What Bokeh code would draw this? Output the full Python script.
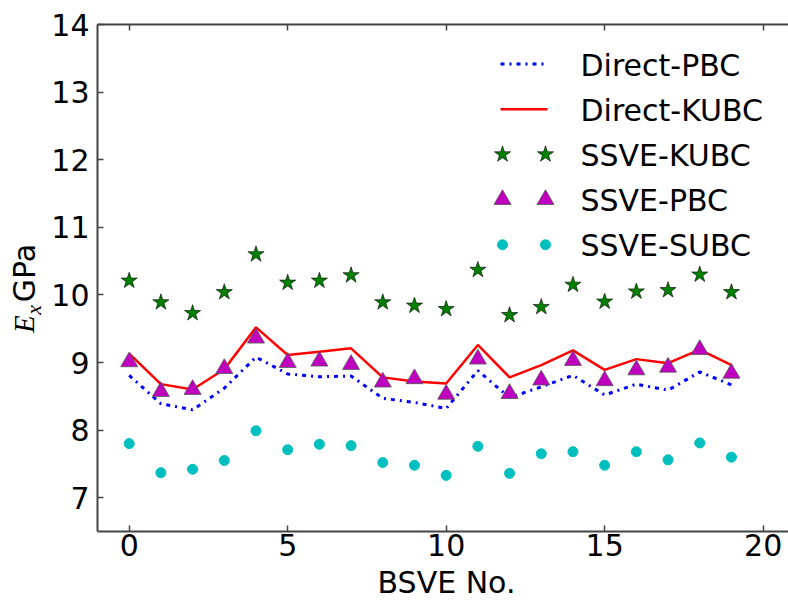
import math

from bokeh.plotting import figure
from bokeh.layouts import row, column
from bokeh.models import Range1d, FixedTicker, LinearAxis, Label
from bokeh.embed import file_html
from bokeh.resources import INLINE

# ---- data -------------------------------------------------------------
bsve_no = list(range(20))

direct_pbc = [8.81, 8.39, 8.30, 8.62, 9.08, 8.83, 8.79, 8.80, 8.47, 8.41,
              8.32, 8.88, 8.48, 8.64, 8.81, 8.52, 8.68, 8.59, 8.86, 8.67]
direct_kubc = [9.13, 8.68, 8.60, 8.90, 9.52, 9.11, 9.16, 9.21, 8.78, 8.72,
               8.69, 9.26, 8.78, 8.96, 9.18, 8.89, 9.05, 8.99, 9.19, 8.96]
ssve_kubc = [10.21, 9.89, 9.73, 10.04, 10.60, 10.18, 10.21, 10.29, 9.89, 9.84,
             9.79, 10.37, 9.70, 9.82, 10.15, 9.90, 10.05, 10.07, 10.30, 10.04]
ssve_pbc = [9.01, 8.57, 8.60, 8.91, 9.36, 9.00, 9.02, 8.97, 8.71, 8.76,
            8.53, 9.05, 8.54, 8.74, 9.03, 8.73, 8.89, 8.93, 9.19, 8.84]
ssve_subc = [7.80, 7.37, 7.42, 7.55, 7.99, 7.71, 7.79, 7.77, 7.52, 7.48,
             7.33, 7.76, 7.36, 7.65, 7.68, 7.48, 7.68, 7.56, 7.81, 7.60]

series_names = ["Direct-PBC", "Direct-KUBC", "SSVE-KUBC", "SSVE-PBC", "SSVE-SUBC"]
x_ticks = [0, 5, 10, 15, 20]
y_ticks = [7, 8, 9, 10, 11, 12, 13, 14]

# ---- layout & style ---------------------------------------------------
W, H = 788, 600
STRIP = 47                # left strip carrying the y title
XSTRIP = 35               # bottom strip carrying the x title
LEFT, TOP, BOTTOM = 97, 24, 69
X_START, X_END = -1.0, 20.8
Y_START, Y_END = 6.5, 14.0

SPINE = "#444444"
FONT = "DejaVu Sans"
BLUE, RED = "#0000ff", "#ff0000"
GREEN, MAGENTA, CYAN = "#007f00", "#bf00bf", "#00bfbf"
BASELINE_FIX = 11  # px: lift applied to alphabetic-baseline labels


def sx(px):
    """page pixel column -> x data value"""
    return X_START + (px - LEFT) * (X_END - X_START) / (W - LEFT)


def sy(py):
    """page pixel row -> y data value"""
    return Y_END - (py - TOP) * (Y_END - Y_START) / (H - TOP - BOTTOM)


p = figure(width=W - STRIP, height=H - XSTRIP, output_backend="svg",
           toolbar_location=None, title=None,
           x_range=Range1d(X_START, X_END), y_range=Range1d(Y_START, Y_END),
           min_border_left=LEFT - STRIP, min_border_right=0,
           min_border_top=TOP, min_border_bottom=BOTTOM - XSTRIP)
p.grid.visible = False
p.outline_line_color = None
p.background_fill_color = "white"
p.border_fill_color = "white"


def style_axis(ax, ticks, standoff, label_size="30px"):
    ax.ticker = FixedTicker(ticks=ticks)
    ax.axis_line_color = SPINE
    ax.axis_line_width = 2
    ax.major_tick_line_color = SPINE
    ax.major_tick_line_width = 1.5
    ax.major_tick_in = 6
    ax.major_tick_out = 0
    ax.minor_tick_line_color = None
    ax.major_label_text_font = FONT
    ax.major_label_text_font_size = label_size
    ax.major_label_text_color = "black"
    ax.major_label_standoff = standoff


style_axis(p.xaxis[0], x_ticks, 2)
style_axis(p.yaxis[0], y_ticks, 8)

top_axis = LinearAxis()
style_axis(top_axis, x_ticks, 0, label_size="0px")
p.add_layout(top_axis, "above")

# ---- series -----------------------------------------------------------
p.line(bsve_no, direct_pbc, line_color=BLUE, line_width=3, line_dash="4 5 2 5")
p.line(bsve_no, direct_kubc, line_color=RED, line_width=2.5)
p.scatter(bsve_no, ssve_kubc, marker="star", size=17,
          fill_color=GREEN, line_color="black", line_width=0.6)
p.scatter(bsve_no, ssve_pbc, marker="triangle", size=17,
          fill_color=MAGENTA, line_color="#555555", line_width=0.8)
p.scatter(bsve_no, ssve_subc, marker="circle", size=10,
          fill_color=CYAN, line_color=CYAN)

# ---- legend (two sample points per entry) ------------------------------
row_px = [63.5 + 45.2 * k for k in range(5)]
mk_px = (502, 545)
ln_px = (500, 547)
txt_px = 580

p.line([sx(ln_px[0]), sx(ln_px[1])], [sy(row_px[0])] * 2,
       line_color=BLUE, line_width=3, line_dash="4 5 2 5")
p.line([sx(ln_px[0]), sx(ln_px[1])], [sy(row_px[1])] * 2,
       line_color=RED, line_width=2.5)
p.scatter([sx(mk_px[0]), sx(mk_px[1])], [sy(row_px[2])] * 2, marker="star",
          size=17, fill_color=GREEN, line_color="black", line_width=0.6)
p.scatter([sx(mk_px[0]), sx(mk_px[1])], [sy(row_px[3])] * 2, marker="triangle",
          size=17, fill_color=MAGENTA, line_color="#555555", line_width=0.8)
p.scatter([sx(mk_px[0]), sx(mk_px[1])], [sy(row_px[4])] * 2, marker="circle",
          size=10, fill_color=CYAN, line_color=CYAN)

for name, ry in zip(series_names, row_px):
    p.add_layout(Label(x=sx(txt_px), y=sy(ry + 12 - BASELINE_FIX), text=name,
                       text_font=FONT, text_font_size="30px", text_color="black",
                       text_align="left", text_baseline="alphabetic"))


# ---- title strips: plain pixel ranges, frame fills the whole canvas -------
def strip(width, height):
    f = figure(width=width, height=height, output_backend="svg",
               toolbar_location=None, title=None,
               x_range=Range1d(0, width), y_range=Range1d(height, 0),
               x_axis_location=None, y_axis_location=None,
               min_border_left=0, min_border_right=0,
               min_border_top=0, min_border_bottom=0)
    f.grid.visible = False
    f.outline_line_color = None
    f.background_fill_color = "white"
    f.border_fill_color = "white"
    return f


ytitle = strip(STRIP, H - XSTRIP)


def ylabel_part(cx, cy, text, **kw):
    """rotated text placed around (cx, cy) in strip pixels"""
    ytitle.add_layout(Label(x=cx, y=cy, text=text, angle=math.pi / 2,
                            text_color="black", text_align="center",
                            text_baseline="middle", **kw))


ylabel_part(23, 334, "E", text_font="Liberation Serif",
            text_font_style="italic", text_font_size="29px")
ylabel_part(33, 318, "x", text_font="Liberation Serif",
            text_font_style="italic", text_font_size="22px")
ylabel_part(23.5, 277, "GPa", text_font=FONT, text_font_size="30px")

xtitle = strip(W, XSTRIP)
xtitle.add_layout(Label(x=446, y=593 - (H - XSTRIP) - BASELINE_FIX, text="BSVE No.",
                        text_font=FONT, text_font_size="30px", text_color="black",
                        text_align="center", text_baseline="alphabetic"))

layout = column(row(ytitle, p, spacing=0), xtitle, spacing=0)
open("out.html", "w").write(file_html(layout, INLINE))
